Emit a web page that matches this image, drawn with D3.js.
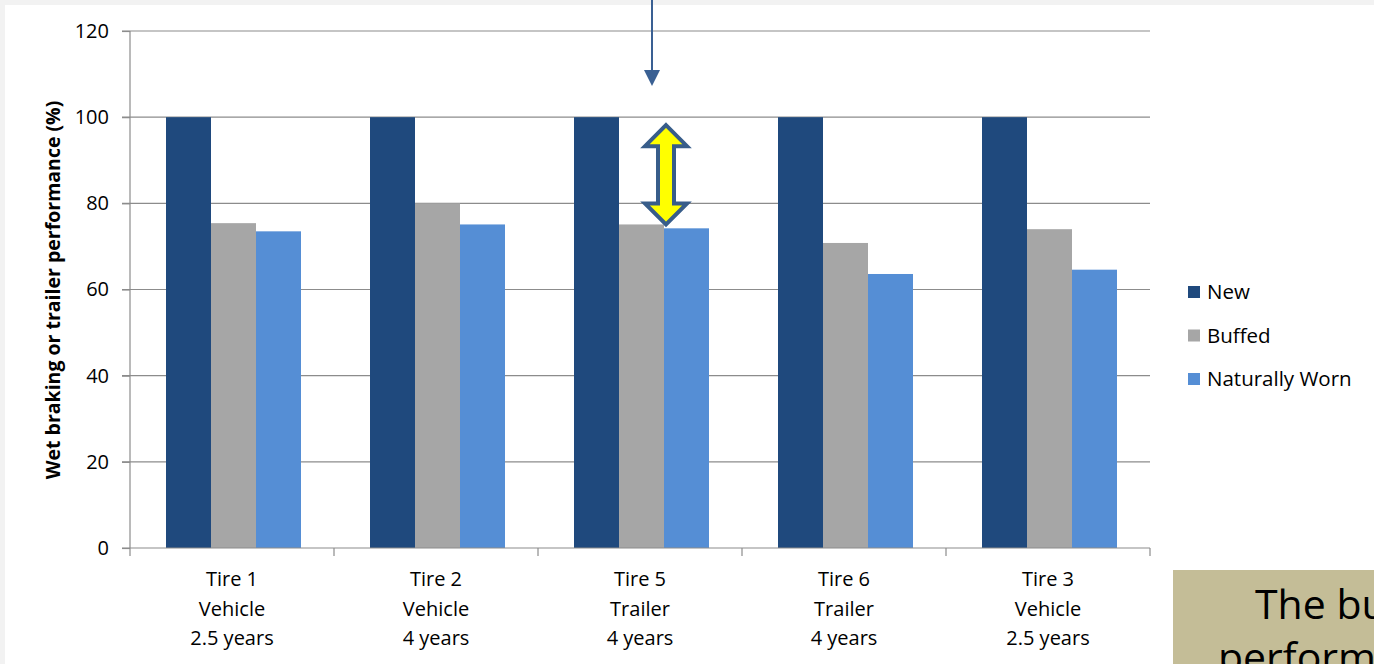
<!DOCTYPE html>
<html>
<head>
<meta charset="utf-8">
<script src="https://cdn.jsdelivr.net/npm/d3@7"></script>
<style>
  html, body { margin: 0; padding: 0; background: #f2f2f2; }
  svg { display: block; }
  text { font-family: "Open Sans", "Noto Sans", sans-serif; fill: #000; }
</style>
</head>
<body>
<div id="chart"></div>
<script>
// chart data
const categories = ['Tire 1|Vehicle|2.5 years', 'Tire 2|Vehicle|4 years', 'Tire 5|Trailer|4 years', 'Tire 6|Trailer|4 years', 'Tire 3|Vehicle|2.5 years'];
const seriesNames = ['New', 'Buffed', 'Naturally Worn'];
const newValues = [100, 100, 100, 100, 100];
const buffedValues = [75.4, 80, 75.1, 70.8, 74.0];
const wornValues = [73.5, 75.1, 74.2, 63.6, 64.6];
const yTicks = [0, 20, 40, 60, 80, 100, 120];
const colors = ['#1f497d', '#a6a6a6', '#558ed5'];

const width = 1374, height = 664;
const plot = {left: 130, right: 1150, top: 31, bottom: 548};

const svg = d3.select('#chart').append('svg')
    .attr('width', width)
    .attr('height', height);

// white slide area
svg.append('rect')
    .attr('x', 5).attr('y', 5)
    .attr('width', width - 5).attr('height', height - 5)
    .attr('fill', '#fff');

const y = d3.scaleLinear().domain([0, 120]).range([plot.bottom, plot.top]);
const x0 = d3.scaleBand().domain(categories).range([plot.left, plot.right]);
const x1 = d3.scaleBand().domain(seriesNames)
    .range([36, 171]);

// gridlines
svg.append('g')
  .selectAll('line')
  .data(yTicks.filter(d => d > 0))
  .enter().append('line')
    .attr('x1', plot.left - 8)
    .attr('x2', plot.right)
    .attr('y1', d => y(d))
    .attr('y2', d => y(d))
    .attr('stroke', '#8c8c8c')
    .attr('stroke-width', 1.2);

// y axis
const yAxis = svg.append('g')
    .attr('transform', `translate(${plot.left},0)`)
    .call(d3.axisLeft(y).tickValues(yTicks).tickSize(8).tickPadding(13));
yAxis.select('.domain').attr('stroke', '#8c8c8c').attr('stroke-width', 1.2)
    .attr('d', `M0,${plot.top}V${plot.bottom}`);
yAxis.selectAll('.tick line').attr('stroke', '#8c8c8c').attr('stroke-width', 1.2);
yAxis.selectAll('.tick text')
    .style('font-size', '20px')
    .style('font-family', '"Open Sans", sans-serif')
    .attr('fill', '#000');

// bars
const rows = seriesNames.map((name, i) => ({
  name: name,
  color: colors[i],
  values: [newValues, buffedValues, wornValues][i]
}));

const barGroups = svg.append('g')
  .selectAll('g')
  .data(rows)
  .enter().append('g')
    .attr('fill', d => d.color);

barGroups.selectAll('rect')
  .data(d => d.values.map((v, j) => ({series: d.name, cat: categories[j], value: v})))
  .enter().append('rect')
    .attr('x', d => x0(d.cat) + x1(d.series))
    .attr('width', x1.bandwidth())
    .attr('y', d => y(d.value))
    .attr('height', d => y(0) - y(d.value));

// x axis
const xAxis = svg.append('g');
xAxis.append('line')
    .attr('x1', plot.left - 8).attr('x2', plot.right)
    .attr('y1', plot.bottom).attr('y2', plot.bottom)
    .attr('stroke', '#8c8c8c').attr('stroke-width', 1.2);
xAxis.selectAll('.cat-tick')
  .data(categories.map(c => x0(c)).concat([plot.right]))
  .enter().append('line')
    .attr('x1', d => d).attr('x2', d => d)
    .attr('y1', plot.bottom).attr('y2', plot.bottom + 8)
    .attr('stroke', '#8c8c8c').attr('stroke-width', 1.2);

const catLabels = xAxis.selectAll('.cat-label')
  .data(categories)
  .enter().append('text')
    .attr('text-anchor', 'middle')
    .attr('x', d => x0(d) + x0.bandwidth() / 2)
    .attr('y', plot.bottom + 38)
    .style('font-size', '20px');
catLabels.each(function(d) {
  const t = d3.select(this);
  d.split('|').forEach((line, i) => {
    t.append('tspan')
        .attr('x', x0(d) + x0.bandwidth() / 2)
        .attr('dy', i === 0 ? 0 : 29.5)
        .text(line);
  });
});

// y axis title
svg.append('text')
    .attr('transform', `translate(60,290) rotate(-90)`)
    .attr('text-anchor', 'middle')
    .style('font-size', '19.5px')
    .style('font-weight', 'bold')
    .text('Wet braking or trailer performance (%)');

// legend
const legend = svg.append('g')
  .selectAll('g')
  .data(rows)
  .enter().append('g')
    .attr('transform', (d, i) => `translate(1188,${292 + i * 43.5})`);
legend.append('rect')
    .attr('x', 0).attr('y', -6)
    .attr('width', 12).attr('height', 12)
    .attr('fill', d => d.color);
legend.append('text')
    .attr('x', 19).attr('dy', '0.35em')
    .style('font-size', '20.5px')
    .text(d => d.name);

// annotation: arrow pointing down at Tire 5
const arrowColor = '#3a6093';
const ax = x0(categories[2]) + x1('Buffed') + x1.bandwidth() - 12;
svg.append('line')
    .attr('x1', ax).attr('x2', ax)
    .attr('y1', 0).attr('y2', 72)
    .attr('stroke', arrowColor).attr('stroke-width', 2);
svg.append('path')
    .attr('d', `M${ax - 8},70 L${ax + 8},70 L${ax},86 Z`)
    .attr('fill', arrowColor);

// annotation: double-headed arrow between New and Buffed levels
const dx = ax + 14;
const topY = y(100) + 8, botY = y(75.1);
const hw = 21, sw = 8, hh = 21;
svg.append('path')
    .attr('d', [
      `M${dx},${topY}`,
      `L${dx + hw},${topY + hh}`,
      `L${dx + sw},${topY + hh}`,
      `L${dx + sw},${botY - hh}`,
      `L${dx + hw},${botY - hh}`,
      `L${dx},${botY}`,
      `L${dx - hw},${botY - hh}`,
      `L${dx - sw},${botY - hh}`,
      `L${dx - sw},${topY + hh}`,
      `L${dx - hw},${topY + hh}`,
      'Z'
    ].join(' '))
    .attr('fill', '#ffff00')
    .attr('stroke', '#385d8a')
    .attr('stroke-width', 4)
    .attr('stroke-linejoin', 'miter');

// cropped text box at bottom right
svg.append('rect')
    .attr('x', 1173).attr('y', 570)
    .attr('width', 300).attr('height', 200)
    .attr('fill', '#c4bd97');
svg.append('text')
    .attr('x', 1255).attr('y', 619)
    .style('font-size', '41px')
    .text('The bu');
svg.append('text')
    .attr('x', 1218).attr('y', 672)
    .style('font-size', '41px')
    .text('performa');
</script>
</body>
</html>
